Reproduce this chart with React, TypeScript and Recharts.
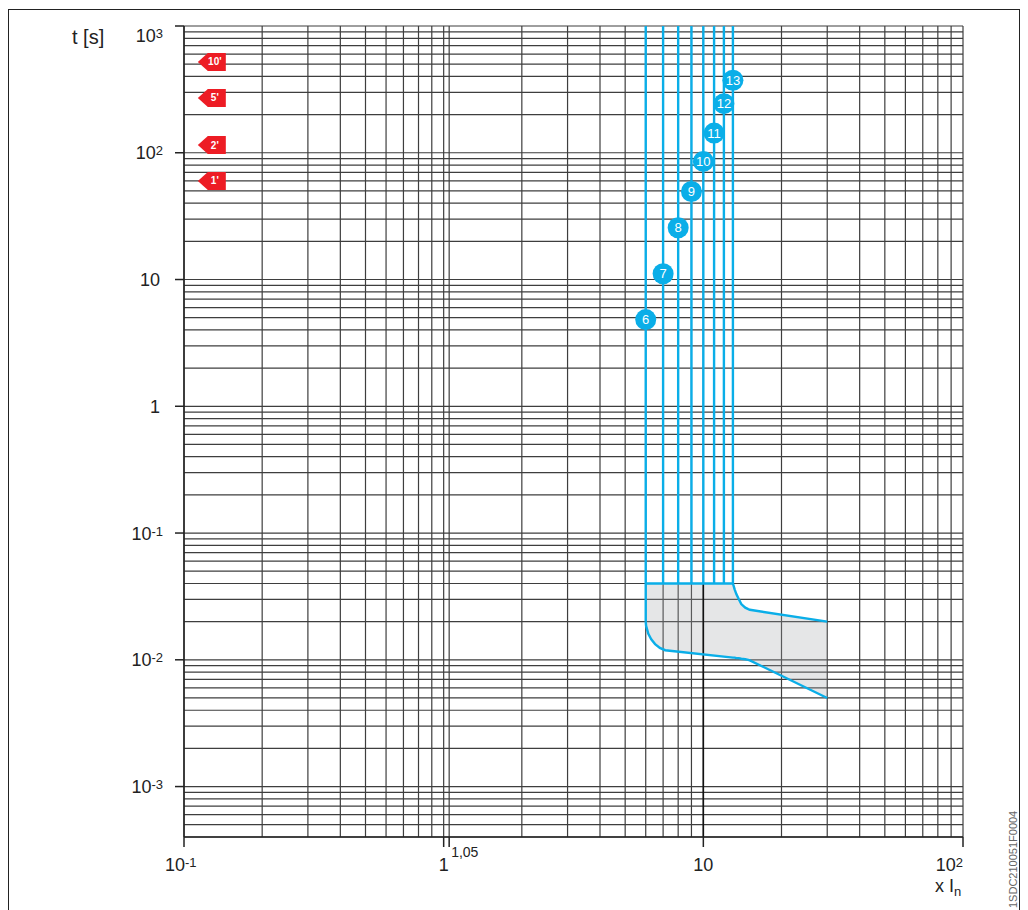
import React from 'react'
import { ComposedChart, XAxis, YAxis, CartesianGrid, Line, Area, Scatter } from 'recharts'

const FONT = '"Liberation Sans", Arial, sans-serif'
const BLUE = '#0aaee8'
const RED = '#ed1c24'
const INK = '#222'

// trip settings (x In) and the blue vertical lines
const settings = [6, 7, 8, 9, 10, 11, 12, 13]
const settingTop = 1000
const settingBottom = [0.02, 0.04, 0.04, 0.04, 0.04, 0.04, 0.04, 0.04]
const badgeT = [4.83, 11.1, 25.6, 49.5, 85.5, 143, 244, 373]

// shaded instantaneous band
const bandX = [6, 6.02, 6.14, 6.3, 6.52, 6.8, 7.13, 13, 13.2, 13.4, 13.7, 14, 14.5, 14.9, 15.1, 30]
const bandHigh = [0.04, 0.04, 0.04, 0.04, 0.04, 0.04, 0.04, 0.04, 0.036, 0.033, 0.03, 0.0275, 0.0258, 0.0251, 0.0248, 0.02]
const bandLow = [0.02, 0.0185, 0.016, 0.0145, 0.0133, 0.0124, 0.0119, 0.0104, 0.0104, 0.0103, 0.0103, 0.0102, 0.0101, 0.01, 0.0099, 0.005]

// minute markers
const flagLabels = ["10'", "5'", "2'", "1'"]
const flagT = [521, 271, 115, 60]
const flagX = 0.128

const xTicks = [0.1, 1, 1.05, 10, 100]
const yTicks = [0.001, 0.01, 0.1, 1, 10, 100, 1000]
const steps = [1, 2, 3, 4, 5, 6, 7, 8, 9]
const xDecades = [0.1, 1, 10]
const yDecades = [0.0001, 0.001, 0.01, 0.1, 1, 10, 100]
const X_DOMAIN = [0.1, 100]
const Y_DOMAIN = [0.0004, 1000]

const gridX = [...xDecades.flatMap((d) => steps.map((s) => d * s)), 100, 1.05]
const gridY = [...yDecades.flatMap((d) => steps.map((s) => d * s)), 1000].filter(
  (v) => v >= Y_DOMAIN[0] * 0.999 && v <= Y_DOMAIN[1] * 1.001
)

const settingLines = settings.map((x, i) => [
  { x, t: settingTop },
  { x, t: settingBottom[i] },
])
const badges = settings.map((x, i) => ({ x, t: badgeT[i], n: String(x) }))
const band = bandX.map((x, i) => ({ x, range: [bandLow[i], bandHigh[i]], hi: bandHigh[i], lo: bandLow[i] }))
const flags = flagLabels.map((label, i) => ({ x: flagX, t: flagT[i], label }))
const tenLine = [
  { x: 10, t: 0.04 },
  { x: 10, t: Y_DOMAIN[0] },
]

function YTick(props: any) {
  const { x, y, payload } = props
  const v: number = payload.value
  const exp = Math.round(Math.log10(v))
  const yy = v === 1000 ? y + 9 : y
  if (exp === 0 || exp === 1) {
    return (
      <text x={x - 13} y={yy} dy={6.5} textAnchor="end" fontSize={18} fill={INK}>
        {exp === 0 ? '1' : '10'}
      </text>
    )
  }
  return (
    <text x={x - 10} y={yy} dy={6.5} textAnchor="end" fill={INK}>
      <tspan fontSize={18}>10</tspan>
      <tspan fontSize={13} dy={-4}>{String(exp)}</tspan>
    </text>
  )
}

function XTick(props: any) {
  const { x, y, payload } = props
  const v: number = payload.value
  if (v === 1.05) {
    return (
      <text x={x + 2} y={y} dy={8} textAnchor="start" fontSize={14} fill={INK}>
        1,05
      </text>
    )
  }
  if (v === 1 || v === 10) {
    return (
      <text x={x} y={y} dy={22} textAnchor="middle" fontSize={18} fill={INK}>
        {v === 1 ? '1' : '10'}
      </text>
    )
  }
  const exp = Math.round(Math.log10(v))
  return (
    <text x={v === 0.1 ? x - 19 : x} y={y} dy={22} textAnchor={v === 0.1 ? 'start' : 'end'} fill={INK}>
      <tspan fontSize={18}>10</tspan>
      <tspan fontSize={13} dy={-4}>{String(exp)}</tspan>
    </text>
  )
}

function Badge(props: any) {
  const { cx, cy, payload } = props
  return (
    <g>
      <circle cx={cx} cy={cy} r={10.5} fill={BLUE} />
      <text x={cx} y={cy} dy={4.5} textAnchor="middle" fontSize={13} fill="#fff">
        {payload.n}
      </text>
    </g>
  )
}

function Flag(props: any) {
  const { cx, cy, payload } = props
  const pts = `${cx - 14},${cy} ${cx - 4},${cy - 9} ${cx + 14},${cy - 9} ${cx + 14},${cy + 9} ${cx - 4},${cy + 9}`
  return (
    <g>
      <polygon points={pts} fill={RED} />
      <text x={cx + 3} y={cy} dy={3.5} textAnchor="middle" fontSize={10} fontWeight={700} fill="#fff">
        {payload.label}
      </text>
    </g>
  )
}

export default function App() {
  return (
    <div
      style={{
        position: 'relative',
        top: 1,
        width: 1010,
        height: 903,
        border: '1px solid #222',
        fontFamily: FONT,
        background: '#fff',
      }}
    >
      <ComposedChart width={1010} height={900} margin={{ top: 16, right: 56, bottom: 33, left: 100 }}>
        <CartesianGrid
          stroke="#3e3e3e"
          strokeWidth={1.2}
          horizontalValues={gridY}
          verticalValues={gridX}
        />
        <XAxis
          dataKey="x"
          type="number"
          scale="log"
          domain={X_DOMAIN}
          ticks={xTicks}
          interval={0}
          allowDataOverflow
          height={40}
          tickSize={10}
          tick={<XTick />}
          axisLine={{ stroke: INK, strokeWidth: 1.5 }}
          tickLine={{ stroke: INK, strokeWidth: 1.5 }}
        />
        <YAxis
          dataKey="t"
          type="number"
          scale="log"
          domain={Y_DOMAIN}
          ticks={yTicks}
          interval={0}
          allowDataOverflow
          width={75}
          tickSize={9}
          tick={<YTick />}
          axisLine={{ stroke: INK, strokeWidth: 1.5 }}
          tickLine={{ stroke: INK, strokeWidth: 1.5 }}
        />
        <Area
          data={band}
          dataKey="range"
          type="linear"
          stroke="none"
          fill="#a3a5a8"
          fillOpacity={0.28}
          isAnimationActive={false}
          activeDot={false}
        />
        <Line
          data={tenLine}
          dataKey="t"
          stroke="#111"
          strokeWidth={1.6}
          dot={false}
          activeDot={false}
          isAnimationActive={false}
        />
        {settingLines.map((d, i) => (
          <Line
            key={i}
            data={d}
            dataKey="t"
            stroke={BLUE}
            strokeWidth={2.4}
            dot={false}
            activeDot={false}
            isAnimationActive={false}
          />
        ))}
        <Line
          data={band}
          dataKey="hi"
          type="linear"
          stroke={BLUE}
          strokeWidth={2.4}
          dot={false}
          activeDot={false}
          isAnimationActive={false}
        />
        <Line
          data={band}
          dataKey="lo"
          type="linear"
          stroke={BLUE}
          strokeWidth={2.4}
          dot={false}
          activeDot={false}
          isAnimationActive={false}
        />
        <Scatter data={badges} dataKey="t" shape={<Badge />} isAnimationActive={false} />
        <Scatter data={flags} dataKey="t" shape={<Flag />} isAnimationActive={false} />
      </ComposedChart>
      <svg
        width={1010}
        height={903}
        style={{ position: 'absolute', left: 0, top: 0, pointerEvents: 'none', fontFamily: FONT }}
      >
        <text x={63} y={34} fontSize={20} fill={INK}>
          t [s]
        </text>
        <text x={926} y={882} fill={INK}>
          <tspan fontSize={18}>x I</tspan>
          <tspan fontSize={13} dy={4}>
            n
          </tspan>
        </text>
        <text transform="translate(1008 898) rotate(-90)" fontSize={11} fill="#666">
          1SDC210051F0004
        </text>
      </svg>
    </div>
  )
}
